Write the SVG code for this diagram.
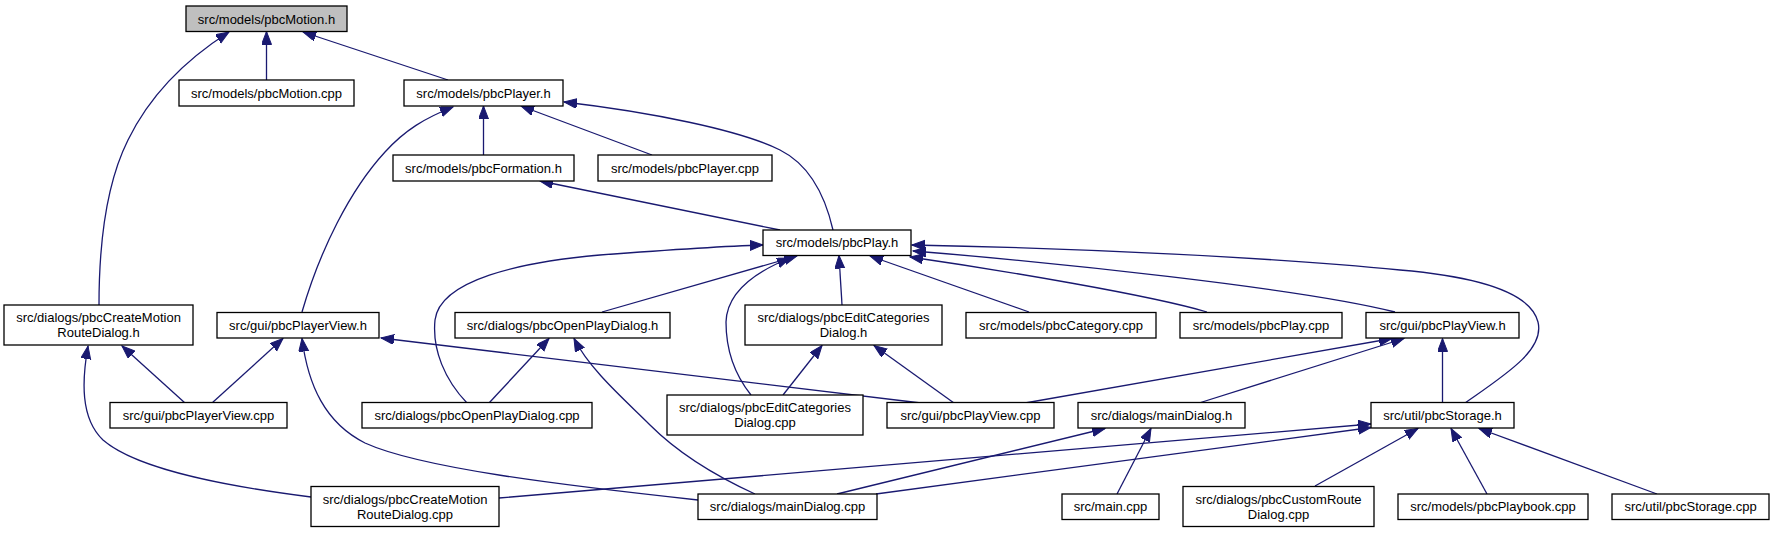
<svg xmlns="http://www.w3.org/2000/svg" width="1773" height="533" viewBox="0 0 1773 533">
<style>
.n rect{fill:#fff;stroke:#000;stroke-width:1.3}
.n.root rect{fill:#bfbfbf}
.n text{font-family:"Liberation Sans",Helvetica,Arial,sans-serif;font-size:13px;text-anchor:middle;fill:#000}
.e path{fill:none;stroke:#191970;stroke-width:1.3;marker-end:url(#ah)}
</style>
<defs>
<marker id="ah" markerUnits="userSpaceOnUse" markerWidth="14" markerHeight="11" viewBox="0 0 14 11" refX="13" refY="5" orient="auto">
<path d="M0,0 L13,5 L0,10 z" fill="#191970" stroke="#191970" stroke-width="1"/>
</marker>
</defs>
<rect width="1773" height="533" fill="#fff"/>
<g class="e" id="edges">
<path d="M266.5,80 L266.5,31.5"/>
<path d="M448,80 L303,32"/>
<path d="M99,305 C99,240 108,180 128,140 C150,95 185,60 229,32"/>
<path d="M483.5,155 L483.5,106"/>
<path d="M652,155 L521,106"/>
<path d="M833,230 C825,195 810,165 780,150 C740,130 650,112 564,102"/>
<path d="M302,312 C320,250 350,190 385,152 C405,130 425,118 453,107"/>
<path d="M780,230 L540,181"/>
<path d="M467,403 C445,380 432,350 435,320 C440,280 520,262 600,255 C680,249 730,246 763,245"/>
<path d="M602,312 L797,256"/>
<path d="M751,395 C735,375 726,350 726,322 C727,290 760,270 790,258"/>
<path d="M842,305 L839,255.5"/>
<path d="M1029,312 L870,256"/>
<path d="M1207,312 C1150,295 1000,270 910,257"/>
<path d="M1395,312 C1300,288 1050,262 913,251"/>
<path d="M1465,403 C1505,375 1545,350 1538,322 C1530,290 1470,276 1400,270 C1280,258 1080,248 912,245"/>
<path d="M185,403 L122,346"/>
<path d="M311,497 C240,488 140,472 103,440 C80,418 82,380 88,346"/>
<path d="M212,403 L283,338.5"/>
<path d="M698,500 C560,485 420,468 365,443 C325,423 308,385 302,338.5"/>
<path d="M921,403 L381,338"/>
<path d="M489,403 L549,338.5"/>
<path d="M755,494 C720,478 680,455 650,425 C625,400 590,370 574,338.5"/>
<path d="M783,395 L822,345.5"/>
<path d="M954,403 L874,345.5"/>
<path d="M1025,403 L1392,338.5"/>
<path d="M1199,403 L1404,338.5"/>
<path d="M1442.5,402.5 L1442.5,338.5"/>
<path d="M837,494 L1105,428.5"/>
<path d="M1117,494 L1151,428.5"/>
<path d="M499,498 L1371,424"/>
<path d="M876,494 L1371,427.5"/>
<path d="M1315,486 L1418,428.5"/>
<path d="M1487,494 L1451,428.5"/>
<path d="M1657,494 L1479,428.5"/>
</g>
<g class="n root" id="n_pbcMotion_h"><rect x="186" y="6" width="161" height="25.5"/><text x="266.5" y="23.5">src/models/pbcMotion.h</text></g>
<g class="n" id="n_pbcMotion_cpp"><rect x="179" y="80" width="175" height="26"/><text x="266.5" y="97.5">src/models/pbcMotion.cpp</text></g>
<g class="n" id="n_pbcPlayer_h"><rect x="404" y="80" width="159" height="26"/><text x="483.5" y="97.5">src/models/pbcPlayer.h</text></g>
<g class="n" id="n_pbcFormation_h"><rect x="393" y="155" width="181" height="26"/><text x="483.5" y="172.5">src/models/pbcFormation.h</text></g>
<g class="n" id="n_pbcPlayer_cpp"><rect x="598" y="155" width="174" height="26"/><text x="685" y="172.5">src/models/pbcPlayer.cpp</text></g>
<g class="n" id="n_pbcPlay_h"><rect x="763" y="230" width="148" height="25.5"/><text x="837" y="247">src/models/pbcPlay.h</text></g>
<g class="n" id="n_createMotion_h"><rect x="4" y="305" width="189" height="40"/><text x="98.5" y="322">src/dialogs/pbcCreateMotion</text><text x="98.5" y="337">RouteDialog.h</text></g>
<g class="n" id="n_playerView_h"><rect x="217" y="312.5" width="162" height="25.5"/><text x="298" y="329.5">src/gui/pbcPlayerView.h</text></g>
<g class="n" id="n_openPlay_h"><rect x="455" y="312.5" width="215" height="25.5"/><text x="562.5" y="329.5">src/dialogs/pbcOpenPlayDialog.h</text></g>
<g class="n" id="n_editCat_h"><rect x="745" y="305" width="197" height="40"/><text x="843.5" y="322">src/dialogs/pbcEditCategories</text><text x="843.5" y="337">Dialog.h</text></g>
<g class="n" id="n_category_cpp"><rect x="966" y="312.5" width="190" height="25.5"/><text x="1061" y="329.5">src/models/pbcCategory.cpp</text></g>
<g class="n" id="n_play_cpp"><rect x="1180" y="312.5" width="162" height="25.5"/><text x="1261" y="329.5">src/models/pbcPlay.cpp</text></g>
<g class="n" id="n_playView_h"><rect x="1366" y="312.5" width="153" height="25.5"/><text x="1442.5" y="329.5">src/gui/pbcPlayView.h</text></g>
<g class="n" id="n_playerView_cpp"><rect x="110" y="402.5" width="177" height="25.5"/><text x="198.5" y="419.5">src/gui/pbcPlayerView.cpp</text></g>
<g class="n" id="n_openPlay_cpp"><rect x="362" y="402.5" width="230" height="25.5"/><text x="477" y="419.5">src/dialogs/pbcOpenPlayDialog.cpp</text></g>
<g class="n" id="n_editCat_cpp"><rect x="667" y="395" width="196" height="40"/><text x="765" y="412">src/dialogs/pbcEditCategories</text><text x="765" y="427">Dialog.cpp</text></g>
<g class="n" id="n_playView_cpp"><rect x="887" y="402.5" width="167" height="25.5"/><text x="970.5" y="419.5">src/gui/pbcPlayView.cpp</text></g>
<g class="n" id="n_mainDialog_h"><rect x="1078" y="402.5" width="167" height="25.5"/><text x="1161.5" y="419.5">src/dialogs/mainDialog.h</text></g>
<g class="n" id="n_storage_h"><rect x="1371" y="402.5" width="143" height="25.5"/><text x="1442.5" y="419.5">src/util/pbcStorage.h</text></g>
<g class="n" id="n_createMotion_cpp"><rect x="311" y="486.5" width="188" height="40"/><text x="405" y="503.5">src/dialogs/pbcCreateMotion</text><text x="405" y="518.5">RouteDialog.cpp</text></g>
<g class="n" id="n_mainDialog_cpp"><rect x="698" y="494" width="179" height="25.5"/><text x="787.5" y="511">src/dialogs/mainDialog.cpp</text></g>
<g class="n" id="n_main_cpp"><rect x="1062" y="494" width="97" height="25.5"/><text x="1110.5" y="511">src/main.cpp</text></g>
<g class="n" id="n_customRoute_cpp"><rect x="1183" y="486.5" width="191" height="40"/><text x="1278.5" y="503.5">src/dialogs/pbcCustomRoute</text><text x="1278.5" y="518.5">Dialog.cpp</text></g>
<g class="n" id="n_playbook_cpp"><rect x="1398" y="494" width="190" height="25.5"/><text x="1493" y="511">src/models/pbcPlaybook.cpp</text></g>
<g class="n" id="n_storage_cpp"><rect x="1612" y="494" width="157" height="25.5"/><text x="1690.5" y="511">src/util/pbcStorage.cpp</text></g>
</svg>
